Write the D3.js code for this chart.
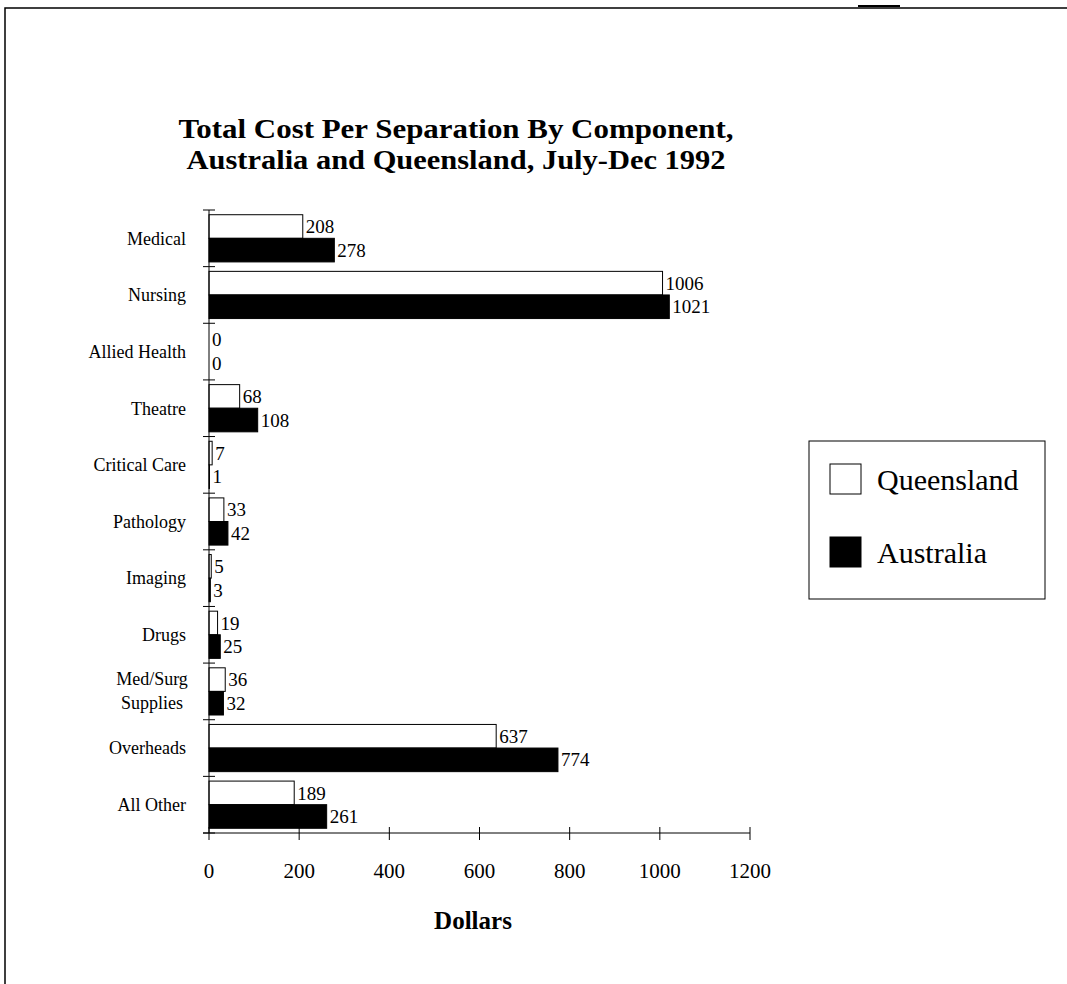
<!DOCTYPE html>
<html><head><meta charset="utf-8">
<script src="https://cdn.jsdelivr.net/npm/d3@7"></script>
<style>body{margin:0;background:#fff}svg{display:block}text{font-family:"Liberation Serif","Times New Roman",serif;fill:#000}</style>
</head><body>
<svg id="c" width="1067" height="984"></svg>
<script>
const categories = ["Medical","Nursing","Allied Health","Theatre","Critical Care","Pathology","Imaging","Drugs","Med/Surg Supplies","Overheads","All Other"];
const seriesNames = ["Queensland","Australia"];
const queensland = [208,1006,0,68,7,33,5,19,36,637,189];
const australia  = [278,1021,0,108,1,42,3,25,32,774,261];
const xTicks = [0,200,400,600,800,1000,1200];
const titleLines = ["Total Cost Per Separation By Component,","Australia and Queensland, July-Dec 1992"];
const xTitle = "Dollars";

const svg = d3.select("#c");
const x = d3.scaleLinear().domain([0,1200]).range([209,750]);
const y = d3.scaleBand().domain(categories).range([210,833]).paddingInner(0).paddingOuter(0);
const ySub = d3.scaleBand().domain(seriesNames).range([0,y.bandwidth()]).paddingInner(0).paddingOuter(0.2);
const fills = {Queensland:"#fff", Australia:"#000"};

// frame
svg.append("path").attr("d","M5,1000 L5,8 L1067,8").attr("fill","none").attr("stroke","#000").attr("stroke-width",1.5);
svg.append("line").attr("x1",858).attr("x2",900).attr("y1",6).attr("y2",6).attr("stroke","#000").attr("stroke-width",2);

// title
const titleW = [555,539];
svg.append("g").selectAll("text").data(titleLines).join("text")
  .attr("x",456).attr("y",(d,i)=>138+i*31).attr("text-anchor","middle")
  .attr("font-size",27).attr("font-weight","bold")
  .attr("textLength",(d,i)=>titleW[i]).attr("lengthAdjust","spacingAndGlyphs").text(d=>d);

// bars
const rows = categories.map((c,i)=>({c, vals:[{s:"Queensland",v:queensland[i]},{s:"Australia",v:australia[i]}]}));
const g = svg.append("g");
const grp = g.selectAll("g").data(rows).join("g").attr("transform",d=>`translate(0,${y(d.c)})`);
grp.selectAll("rect").data(d=>d.vals).join("rect")
  .attr("x",x(0)).attr("y",d=>ySub(d.s)).attr("width",d=>x(d.v)-x(0)).attr("height",ySub.bandwidth())
  .attr("fill",d=>fills[d.s]).attr("stroke","#000").attr("stroke-width",1);
grp.selectAll("text").data(d=>d.vals).join("text")
  .attr("x",d=>x(d.v)+3).attr("y",d=>ySub(d.s)+ySub.bandwidth()/2).attr("dy","0.35em")
  .attr("font-size",19).text(d=>d.v);

// y axis
svg.append("line").attr("x1",x(0)).attr("x2",x(0)).attr("y1",y.range()[0]).attr("y2",y.range()[1]).attr("stroke","#000");
const yTickPos = categories.map(c=>y(c)).concat([y.range()[1]]);
svg.append("g").selectAll("line").data(yTickPos).join("line")
  .attr("x1",x(0)-6).attr("x2",x(0)+6).attr("y1",d=>d).attr("y2",d=>d).attr("stroke","#000");
// category labels
svg.append("g").selectAll("text").data(categories).join("text")
  .attr("font-size",18)
  .each(function(c){
    const t=d3.select(this);
    const cy=y(c)+y.bandwidth()/2;
    if(c==="Med/Surg Supplies"){
      t.attr("text-anchor","middle").attr("x",152);
      t.append("tspan").attr("x",152).attr("y",cy-6).text("Med/Surg");
      t.append("tspan").attr("x",152).attr("y",cy+18).text("Supplies");
    } else {
      t.attr("text-anchor","end").attr("x",186).attr("y",cy).attr("dy","0.35em").text(c);
    }
  });

// x axis
const ax = y.range()[1];
svg.append("line").attr("x1",x(0)-6).attr("x2",x(1200)).attr("y1",ax).attr("y2",ax).attr("stroke","#000");
svg.append("g").selectAll("line").data(xTicks).join("line")
  .attr("x1",d=>x(d)).attr("x2",d=>x(d)).attr("y1",ax-6).attr("y2",ax+7).attr("stroke","#000");
svg.append("g").selectAll("text").data(xTicks).join("text")
  .attr("x",d=>x(d)).attr("y",878).attr("text-anchor","middle").attr("font-size",21).text(d=>d);
svg.append("text").attr("x",473).attr("y",929).attr("text-anchor","middle")
  .attr("font-size",25).attr("font-weight","bold").text(xTitle);

// legend
const lg = svg.append("g");
lg.append("rect").attr("x",809).attr("y",441).attr("width",236).attr("height",158).attr("fill","#fff").attr("stroke","#000");
lg.selectAll("g").data(seriesNames).join("g").each(function(s,i){
  const gg=d3.select(this);
  const yy=464+i*73;
  gg.append("rect").attr("x",830).attr("y",yy).attr("width",31).attr("height",30).attr("fill",fills[s]).attr("stroke","#000");
  gg.append("text").attr("x",877).attr("y",yy+15).attr("dy","0.35em").attr("font-size",30).text(s);
});
</script>
</body></html>
